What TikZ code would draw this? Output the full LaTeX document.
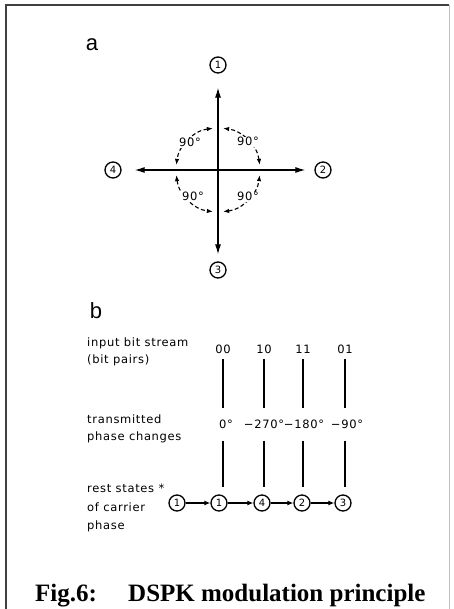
\documentclass[tikz,border=0pt]{standalone}
\usepackage{fontspec}
\setmainfont{Liberation Serif}
\newfontfamily\labfont[LetterSpace=6]{DejaVu Sans}
\newfontfamily\plainsans{Liberation Sans}
\newfontfamily\digitfont{DejaVu Sans}
\usetikzlibrary{arrows.meta,calc}
\begin{document}
\begin{tikzpicture}[x=1pt,y=-1pt,
  lbl/.style={font=\labfont\fontsize{11.5}{13}\selectfont, inner sep=0pt, text height=8pt, text depth=0pt},
  side/.style={lbl, anchor=west},
  st/.style={circle, draw, line width=1.3pt, minimum size=16pt, inner sep=0pt, font=\digitfont\fontsize{10}{11}\selectfont},
  axis/.style={line width=1.2pt, -{Latex[length=10pt,width=6pt]}},
  qarc/.style={line width=1.1pt, dash pattern=on 4pt off 2.5pt,
     {Latex[length=6pt,width=4.5pt]}-{Latex[length=6pt,width=4.5pt]}},
  deg/.style={lbl, fill=white, inner sep=1pt},
  vl/.style={line width=1.2pt},
  harr/.style={line width=1.2pt, -{Latex[length=6pt,width=5pt]}},
  frame/.style={line width=1.4pt, black!75},
  part/.style={font=\plainsans\fontsize{22}{24}\selectfont, inner sep=0pt},
  captext/.style={font=\bfseries\fontsize{25}{28}\selectfont, inner sep=0pt, anchor=base west}
]
\useasboundingbox (0,0) rectangle (453,609);
% frame
\draw[frame] (6,609) -- (6,5) -- (449,5);
\draw[line width=0.6pt, black!25] (449,5) -- (449,609);

% ---------- part a ----------
\node[part] (la) at (92,45) {a};
\coordinate (o) at (218,170);
\node[st] (c1) at (218,65) {1};
\node[st] (c2) at (323,170) {2};
\node[st] (c3) at (218,270) {3};
\node[st] (c4) at (113,170) {4};
\draw[axis, shorten >=14pt] (o) -- (c1);
\draw[axis, shorten >=7pt] (o) -- (c3);
\draw[axis, shorten >=9pt] (o) -- (c2);
\draw[axis, shorten >=13pt] (o) -- (c4);
\foreach \a in {0,90,180,270}{
  \draw[qarc] (o) ++(\a+7:42pt) arc[start angle=\a+7, end angle=\a+83, radius=42pt];
}
\node[deg] (q1) at ($(o)+(30,-28)$) {90°};
\node[deg] (q2) at ($(o)+(-28,-27)$) {90°};
\node[deg] (q3) at ($(o)+(-25,27)$) {90°};
\node[deg] (q4) at ($(o)+(30,27)$) {90°};

% ---------- part b ----------
\node[part] (lb) at (96,311) {b};
\node[side] (t1) at (87,342) {input bit stream};
\node[side] (t2) at (87,359) {(bit pairs)};
\node[side] (t3) at (87,419) {transmitted};
\node[side] (t4) at (87,436) {phase changes};
\node[side] (t5) at (87,488) {rest states *};
\node[side] (t6) at (87,507) {of carrier};
\node[side] (t7) at (87,525) {phase};

\node[lbl] (b1) at (223,349) {00};
\node[lbl] (b2) at (264,349) {10};
\node[lbl] (b3) at (303,349) {11};
\node[lbl] (b4) at (345,349) {01};

\node[lbl] (p1) at (226,424) {0°};
\node[lbl] (p2) at (264,424) {−270°};
\node[lbl] (p3) at (304,424) {−180°};
\node[lbl] (p4) at (347,424) {−90°};

\node[st] (s0) at (177,503) {1};
\node[st] (s1) at (219,503) {1};
\node[st] (s2) at (262,503) {4};
\node[st] (s3) at (302,503) {2};
\node[st] (s4) at (343,503) {3};

\foreach \i in {1,2,3,4}{
  \draw[vl, shorten <=6pt, shorten >=11.5pt] (b\i.south) -- (b\i.south |- p\i.north);
  \draw[vl, shorten <=12.5pt, shorten >=7pt] (b\i.south |- p\i.south) -- (b\i.south |- s\i.north);
}
\draw[harr] (s0) -- (s1);
\draw[harr] (s1) -- (s2);
\draw[harr] (s2) -- (s3);
\draw[harr] (s3) -- (s4);

% caption
\node[captext] (f1) at (35,601) {Fig.6:};
\node[captext] (f2) at (128,601) {DSPK modulation principle};
\end{tikzpicture}
\end{document}
